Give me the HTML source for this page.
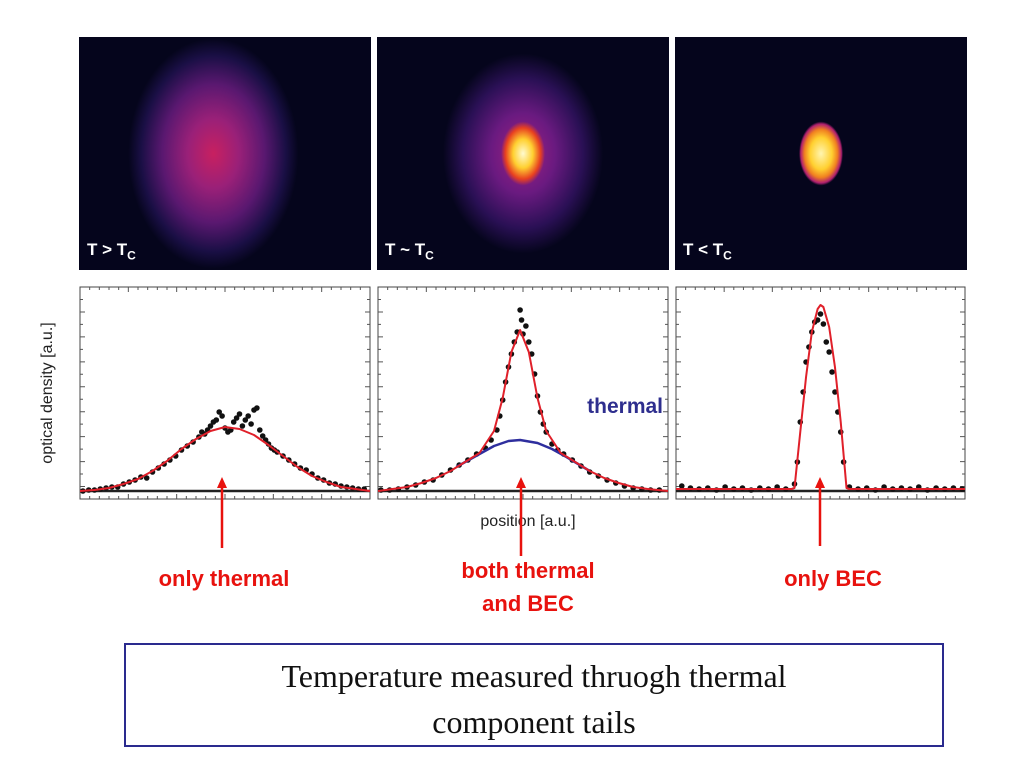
<!DOCTYPE html>
<html><head><meta charset="utf-8"><style>
body{margin:0;width:1024px;height:768px;background:#fff;overflow:hidden;position:relative;font-family:"Liberation Sans",sans-serif}
.img{position:absolute;top:37px;width:292px;height:233px;background:#05051c;overflow:hidden}
.img .lab{position:absolute;left:8px;bottom:8px;color:#fff;font-weight:bold;font-size:17px}
.img .lab sub{font-size:12px}
.note{position:absolute;color:#e8120e;font-weight:bold;font-size:22px;text-align:center;line-height:33px}
</style></head><body>
<div class="img" style="left:79px;background:radial-gradient(ellipse 85px 115px at 46% 50%,#c82060 0%,#9a2078 30%,#5a1870 60%,#1a0f45 85%,#05051c 100%)"><div class="lab">T &gt; T<sub>C</sub></div></div>
<div class="img" style="left:377px;background:radial-gradient(ellipse 22px 32px at 50% 50%,#fffbd0 0%,#ffd030 45%,#e84020 80%,rgba(200,40,110,0) 100%),radial-gradient(ellipse 80px 100px at 50% 50%,#a02080 0%,#6a1a80 40%,#2a1055 75%,#05051c 100%)"><div class="lab">T ~ T<sub>C</sub></div></div>
<div class="img" style="left:675px;background:radial-gradient(ellipse 22px 32px at 50% 50%,#fff5b0 0%,#ffd030 50%,#f08020 75%,#b02070 92%,#05051c 100%)"><div class="lab">T &lt; T<sub>C</sub></div></div>

<svg id="plots" width="1024" height="768" style="position:absolute;left:0;top:0">
<text x="52" y="393" transform="rotate(-90 52 393)" text-anchor="middle" font-size="16" fill="#222">optical density [a.u.]</text>
<text x="528" y="526" text-anchor="middle" font-size="16" fill="#222">position [a.u.]</text>
</svg>

<div class="note" style="left:114px;top:562px;width:220px">only thermal</div>
<div class="note" style="left:408px;top:554px;width:240px">both thermal<br>and BEC</div>
<div class="note" style="left:743px;top:562px;width:180px">only BEC</div>

<div style="position:absolute;left:124px;top:643px;width:820px;height:104px;border:2px solid #2a2a8e;font-family:'Liberation Serif',serif;font-size:32px;text-align:center;line-height:46px;padding-top:8px;box-sizing:border-box;color:#111">Temperature measured thruogh thermal<br>component tails</div>

<script>
// Panel 1: thermal only (x in %, value in px-units above baseline)
const fit1X=[0,5,10,15,20,25,30,35,40,45,50,55,60,65,70,75,80,85,90,95,100];
const fit1Y=[1,2,4,8,13,21,31,43,53,61,65,63,57,47,36,25,16,10,5,3,1];
const dots1X=[1,3,5,7,9,11,13,15,17,19,21,23,25,27,29,31,33,35,37,39,41,42,43,44,45,46,47,48,49,50,51,52,53,54,55,56,57,58,59,60,61,62,63,64,65,66,67,68,70,72,74,76,78,80,82,84,86,88,90,92,94,96,98];
const dots1Y=[1,2,2,3,4,5,5,8,10,12,15,14,20,24,28,32,36,42,46,50,55,60,58,62,66,70,72,80,76,64,60,62,70,74,78,66,72,76,68,82,84,62,56,52,48,44,42,40,36,32,28,24,22,18,14,12,9,8,6,5,4,3,3];
// Panel 2: thermal + BEC
const fit2X=[0,5,10,15,20,25,30,35,40,43,46,49,52,55,58,63,68,73,78,83,88,93,100];
const fit2Y=[1,3,5,9,14,21,30,39,61,94,140,162,140,94,61,39,30,21,14,9,5,3,1];
const therm2X=[27,35,40,45,49,55,60,65,73];
const therm2Y=[25,38,46,51,52,49,43,35,21];
const dots2X=[1,4,7,10,13,16,19,22,25,28,31,34,37,39,41,42,43,44,45,46,47,48,49,49.5,50,51,52,53,54,55,56,57,58,60,62,64,67,70,73,76,79,82,85,88,91,94,97];
const dots2Y=[2,2,3,5,7,10,12,17,22,27,32,38,44,52,62,76,92,110,125,138,150,160,182,172,158,166,150,138,118,96,80,68,60,48,42,38,32,26,20,16,12,9,6,4,3,2,2];
// Panel 3: BEC only
const fit3X=[0,20,40,41,43,45,47,49,50,51,53,55,57,59,60,80,100];
const fit3Y=[3,3,3,4,60,115,160,183,187,185,165,125,70,4,3,3,3];
const dots3X=[2,5,8,11,14,17,20,23,26,29,32,35,38,41,42,43,44,45,46,47,48,49,50,51,52,53,54,55,56,57,58,60,63,66,69,72,75,78,81,84,87,90,93,96,99];
const dots3Y=[6,4,3,4,2,5,3,4,2,4,3,5,3,8,30,70,100,130,145,160,170,172,178,168,150,140,120,100,80,60,30,5,3,4,2,5,3,4,3,5,2,4,3,4,3];

const svg=document.getElementById('plots');
const NS='http://www.w3.org/2000/svg';
function mk(t,a){const e=document.createElementNS(NS,t);for(const k in a)e.setAttribute(k,a[k]);svg.appendChild(e);return e;}
const panels=[{x0:80,x1:370,name:'thermal'},{x0:378,x1:668,name:'mixed'},{x0:676,x1:965,name:'bec'}];
const TOP=287,BOT=499,BASE=492;
function sx(p,v){return p.x0+(p.x1-p.x0)*v/100;}
function sy(v){return BASE-v;}
panels.forEach((p,i)=>{
  const f=mk('rect',{x:p.x0,y:TOP,width:p.x1-p.x0,height:BOT-TOP,fill:'none',stroke:'#444','stroke-width':1});
  
  
  let d='';
  for(let k=1;k<30;k++){const x=p.x0+(p.x1-p.x0)*k/30;const L=k%5==0?5:3;d+=`M${x} ${BOT}v${-L}M${x} ${TOP}v${L}`;}
  for(let k=1;k<17;k++){const y=TOP+(BOT-TOP)*k/17;const L=k%2==0?5:3;d+=`M${p.x0} ${y}h${L}M${p.x1} ${y}h${-L}`;}
  const t=mk('path',{d:d,stroke:'#555','stroke-width':1,fill:'none'});
  
  
});
function dots(p,X,Y,name){X.forEach((x,j)=>{const c=mk('circle',{cx:sx(p,x),cy:sy(Y[j]),r:2.8,fill:'#111'});
  
  });
}
function line(p,X,Y,col,name,w){const pts=X.map((x,j)=>sx(p,x)+','+sy(Y[j])).join(' ');
  const l=mk('polyline',{points:pts,fill:'none',stroke:col,'stroke-width':w,'stroke-linejoin':'round'});
  
  return l;}
panels.forEach(p=>{const b=mk('line',{x1:p.x0,x2:p.x1,y1:BASE-1,y2:BASE-1,stroke:'#222','stroke-width':2.5});
  
  });
dots(panels[0],dots1X,dots1Y,'thermal');
dots(panels[1],dots2X,dots2Y,'mixed');
dots(panels[2],dots3X,dots3Y,'bec');
line(panels[0],fit1X,fit1Y,'#e0202a','fit-line-thermal',2);
line(panels[1],therm2X,therm2Y,'#2e2e9e','thermal-component-line',2.5);
line(panels[1],fit2X,fit2Y,'#e0202a','fit-line-mixed',2);
line(panels[2],fit3X,fit3Y,'#e0202a','fit-line-bec',2);
const th=mk('text',{x:663,y:413,'text-anchor':'end','font-size':21,'font-weight':'bold',fill:'#2e2e8e'});
th.textContent='thermal';


[[222,548],[521,556],[820,546]].forEach((a,i)=>{
  const l=mk('line',{x1:a[0],x2:a[0],y1:a[1],y2:485,stroke:'#e8120e','stroke-width':2.5});
  
  
  const h=mk('polygon',{points:`${a[0]-5},488 ${a[0]+5},488 ${a[0]},477`,fill:'#e8120e'});
  
  
});
</script>
</body></html>
